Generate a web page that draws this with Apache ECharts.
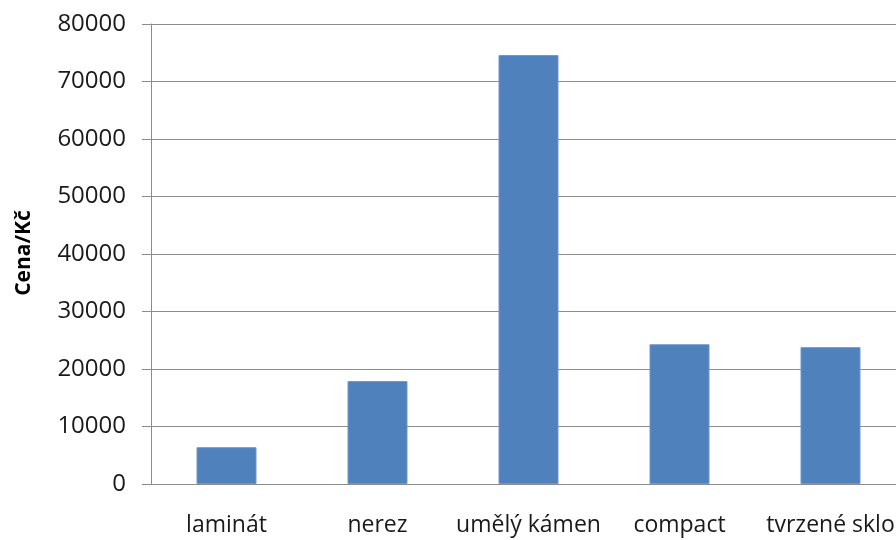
<!DOCTYPE html>
<html>
<head>
<meta charset="utf-8">
<script src="https://cdn.jsdelivr.net/npm/echarts@6/dist/echarts.min.js"></script>
<style>html,body{margin:0;padding:0;background:#fff}#c{width:896px;height:540px}</style>
</head>
<body>
<div id="c"></div>
<script>
const categories = ['laminát', 'nerez', 'umělý kámen', 'compact', 'tvrzené sklo'];
const prices = [6400, 17900, 74600, 24300, 23800];
const yTicks = [0, 10000, 20000, 30000, 40000, 50000, 60000, 70000, 80000];
const yTitle = 'Cena/Kč';

const chart = echarts.init(document.getElementById('c'), null, {renderer: 'canvas'});
const font = '"Open Sans", Lato, sans-serif';
chart.setOption({
  animation: false,
  grid: {left: 151, top: 24, width: 755, height: 460, containLabel: false, outerBoundsMode: 'none'},
  xAxis: {
    type: 'category',
    data: categories,
    axisLine: {lineStyle: {color: '#8c8c8c', width: 1}},
    axisTick: {show: false},
    axisLabel: {color: '#1a1a1a', fontSize: 23, fontFamily: font, margin: 30, interval: 0, hideOverlap: false}
  },
  yAxis: {
    type: 'value',
    min: yTicks[0],
    max: yTicks[yTicks.length - 1],
    interval: 10000,
    axisLine: {show: true, lineStyle: {color: '#8c8c8c', width: 1}},
    axisTick: {show: true, length: 9, lineStyle: {color: '#8c8c8c'}},
    splitLine: {lineStyle: {color: '#8c8c8c', width: 1}},
    axisLabel: {color: '#1a1a1a', fontSize: 24, fontFamily: font, margin: 25, formatter: v => String(v)}
  },
  graphic: [{
    type: 'text',
    x: 24, y: 253,
    rotation: Math.PI / 2,
    style: {text: yTitle, fill: '#000', font: 'bold 21px ' + font, textAlign: 'center', textVerticalAlign: 'middle'}
  }],
  series: [{
    type: 'bar',
    data: prices,
    barWidth: 60,
    itemStyle: {color: '#4f81bd', borderColor: '#6f97c8', borderWidth: 1}
  }]
});
</script>
</body>
</html>
